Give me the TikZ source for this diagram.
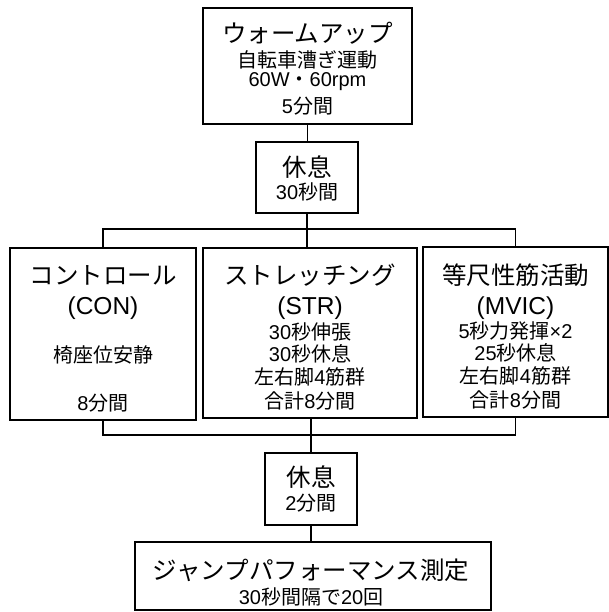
\documentclass[tikz,border=0pt]{standalone}
\usepackage{fontspec}
\setmainfont{Noto Sans CJK JP}
\newfontfamily\lat{Liberation Sans}
\begin{document}
\begin{tikzpicture}[x=1pt,y=-1pt,
  box/.style={draw=black,line width=1.4pt,rectangle,inner sep=0pt},
  big/.style={font=\fontsize{24.5}{28}\selectfont,inner sep=0pt,anchor=center},
  small/.style={font=\fontsize{20}{23}\selectfont,inner sep=0pt,anchor=center},
  conn/.style={line width=1.4pt}]
\useasboundingbox (0,0) rectangle (609,612);
% boxes
\node[box,minimum width=209pt,minimum height=116pt] (warm) at (307.5,66) {};
\node[box,minimum width=102pt,minimum height=71pt] (rest1) at (307,177.5) {};
\node[box,minimum width=186pt,minimum height=172pt] (con) at (103,334) {};
\node[box,minimum width=214pt,minimum height=170pt] (str) at (310,333) {};
\node[box,minimum width=185pt,minimum height=170pt] (mvic) at (515.5,332) {};
\node[box,minimum width=92pt,minimum height=72pt] (rest2) at (311,489) {};
\node[box,minimum width=356pt,minimum height=68pt] (jump) at (313,576) {};
% texts
\node[big] (w1) at (307.5,33) {ウォームアップ};
\node[small] (w2) at (307.5,60) {自転車漕ぎ運動};
\node[small] (w3) at (307.5,82) {{\lat 60W}・{\lat 60rpm}};
\node[small] (w4) at (307.5,106) {{\lat 5}分間};
\node[big] (r1a) at (307,167) {休息};
\node[small] (r1b) at (307,192) {{\lat 30}秒間};
\node[big] (c1) at (103,275) {コントロール};
\node[big] (c2) at (103,308) {\lat (CON)};
\node[small] (c3) at (103,355) {椅座位安静};
\node[small] (c4) at (103,403) {{\lat 8}分間};
\node[big] (s1) at (310,275) {ストレッチング};
\node[big] (s2) at (310,308) {\lat (STR)};
\node[small] (s3) at (310,332) {{\lat 30}秒伸張};
\node[small] (s4) at (310,354) {{\lat 30}秒休息};
\node[small] (s5) at (310,377) {左右脚{\lat 4}筋群};
\node[small] (s6) at (310,401) {合計{\lat 8}分間};
\node[big] (m1) at (515.5,275) {等尺性筋活動};
\node[big] (m2) at (515.5,308) {\lat (MVIC)};
\node[small] (m3) at (515.5,331) {{\lat 5}秒力発揮{\lat ×2}};
\node[small] (m4) at (515.5,353) {{\lat 25}秒休息};
\node[small] (m5) at (515.5,376) {左右脚{\lat 4}筋群};
\node[small] (m6) at (515.5,400) {合計{\lat 8}分間};
\node[big] (r2a) at (311,477) {休息};
\node[small] (r2b) at (311,503) {{\lat 2}分間};
\node[big] (j1) at (311,570) {ジャンプパフォーマンス測定};
\node[small] (j2) at (311,597) {{\lat 30}秒間隔で{\lat 20}回};
% connectors
\coordinate (bus1) at (307,229);
\coordinate (bus2) at (311,435);
\draw[conn] (warm.south) -- (warm.south |- rest1.north);
\draw[conn] (rest1.south) -- (rest1.south |- str.north);
\draw[conn] (con.north) -- (con.north |- bus1) -| (mvic.north);
\draw[conn] (con.south) -- (con.south |- bus2) -| (mvic.south);
\draw[conn] (str.south -| rest2.north) -- (rest2.north);
\draw[conn] (rest2.south) -- (rest2.south |- jump.north);
\end{tikzpicture}
\end{document}
